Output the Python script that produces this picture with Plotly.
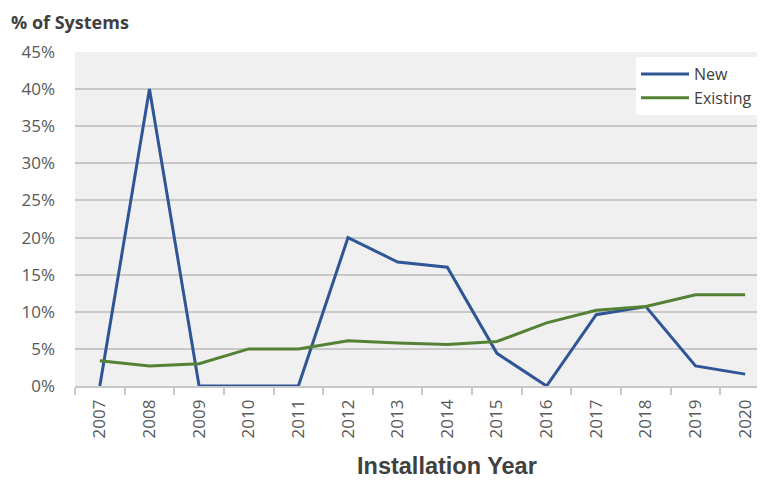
import plotly.graph_objects as go

years = ["2007", "2008", "2009", "2010", "2011", "2012", "2013", "2014",
         "2015", "2016", "2017", "2018", "2019", "2020"]
new_vals = [0, 40, 0, 0, 0, 20, 16.7, 16.0, 4.4, 0, 9.6, 10.7, 2.7, 1.6]
existing_vals = [3.4, 2.7, 3.0, 5.0, 5.0, 6.1, 5.8, 5.6, 6.0, 8.5, 10.2, 10.7, 12.3, 12.3]
y_ticks = [0, 5, 10, 15, 20, 25, 30, 35, 40, 45]
y_tick_labels = [f"{v}%" for v in y_ticks]

fig = go.Figure()
fig.add_trace(go.Scatter(x=years, y=new_vals, mode="lines", name="New",
                         line=dict(color="#2f5597", width=3)))
fig.add_trace(go.Scatter(x=years, y=existing_vals, mode="lines", name="Existing",
                         line=dict(color="#548235", width=3)))

tick_font = dict(family="Open Sans, Noto Sans, sans-serif", size=17, color="#595959")

# page body has an 8px margin; work in viewport pixels and shift
OFF = 8
W, H = 765 - OFF, 480 - OFF
L, R, T, B = 75 - OFF, 0, 52 - OFF, 94
pw, ph = W - L - R, H - T - B

def px_x(x):
    return (x - OFF - L) / pw

def px_y(y):
    return (H - B - (y - OFF)) / ph

fig.update_layout(
    width=W, height=H,
    margin=dict(l=L, r=R, t=T, b=B, autoexpand=False),
    paper_bgcolor="white",
    plot_bgcolor="#f0f0f0",
    showlegend=True,
    legend=dict(x=px_x(636), y=px_y(57), xanchor="left", yanchor="top",
                bgcolor="white",
                font=dict(family="Open Sans, Noto Sans, sans-serif", size=16, color="#404040"),
                tracegroupgap=0, itemwidth=48),
    xaxis=dict(type="category", tickangle=-90, tickfont=tick_font, automargin=False,
               showgrid=False, showline=True, linecolor="#c8c8c8", linewidth=1.5,
               ticks="outside", ticklen=7, tickcolor="#c8c8c8", tickwidth=1.5,
               tickson="boundaries", range=[-0.5, 13.4], ticklabelstandoff=5),
    yaxis=dict(range=[0, 45], tickvals=y_ticks, ticktext=y_tick_labels, automargin=False,
               tickfont=tick_font, showgrid=True, gridcolor="#c8c8c8", gridwidth=1.5,
               zeroline=False, ticks="", ticklabelstandoff=19),
    annotations=[
        dict(text="<b>% of Systems</b>", x=px_x(10), y=px_y(OFF + 1), xref="paper", yref="paper",
             showarrow=False, xanchor="left", yanchor="top", borderpad=0,
             font=dict(family="Open Sans, Noto Sans, sans-serif", size=18, color="#404040")),
        dict(text="<b>Installation Year</b>", x=px_x(447), y=px_y(480),
             xref="paper", yref="paper", xanchor="center", yanchor="bottom", borderpad=0,
             showarrow=False,
             font=dict(family="Liberation Sans, Arial, sans-serif", size=23.5, color="#404040")),
    ],
)

fig.write_html("out.html")
